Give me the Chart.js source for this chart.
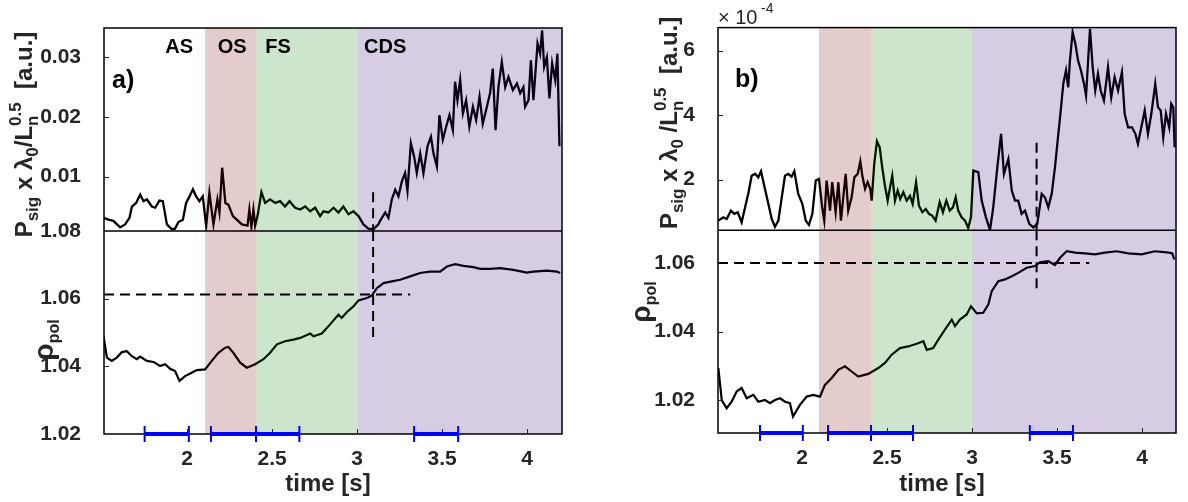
<!DOCTYPE html>
<html lang="en">
<head>
    <meta charset="UTF-8">
    <title>P_sig and rho_pol versus time</title>
    <script src="https://cdn.jsdelivr.net/npm/chart.js"></script>
    <style>
        body { margin: 0; background: #fff; }
        #wrap { position: relative; width: 1188px; height: 502px; }
        canvas { position: absolute; top: 0; }
    </style>
</head>
<body>
<div id="wrap">
    <canvas id="panel-a" width="590" height="502" style="left:0"></canvas>
    <canvas id="panel-b" width="598" height="502" style="left:590px"></canvas>
</div>

<script>
    // ---- data ----
    const xTicks = [2, 2.5, 3, 3.5, 4];
    const stageNames = ['AS', 'OS', 'FS', 'CDS'];
    const stageLabelTime = [1.953, 2.265, 2.535, 3.165];
    const phaseStartA = [2.106, 2.406, 3.006];   // OS, FS, CDS
    const phaseStartB = [2.100, 2.406, 3.000];

    // panel a, top: P_sig x lambda0 / Ln^0.5
    const sigTimeA = [1.508, 1.537, 1.566, 1.606, 1.635, 1.661, 1.675, 1.700, 1.724, 1.743, 1.763, 1.792, 1.812, 1.837, 1.857,
        1.881, 1.910, 1.929, 1.949, 1.975, 1.994, 2.014, 2.034, 2.053, 2.072, 2.092, 2.112, 2.131, 2.155, 2.178, 2.190, 2.206,
        2.225, 2.243, 2.269, 2.292, 2.322, 2.355, 2.366, 2.378, 2.390, 2.400, 2.414, 2.437, 2.459, 2.488, 2.518, 2.547, 2.576,
        2.602, 2.635, 2.665, 2.694, 2.724, 2.753, 2.782, 2.802, 2.831, 2.861, 2.890, 2.919, 2.949, 2.978, 3.008, 3.037, 3.066,
        3.096, 3.125, 3.135, 3.165, 3.184, 3.204, 3.224, 3.243, 3.263, 3.282, 3.296, 3.316, 3.335, 3.351, 3.371, 3.390, 3.414,
        3.434, 3.449, 3.469, 3.484, 3.504, 3.524, 3.543, 3.563, 3.576, 3.590, 3.606, 3.622, 3.641, 3.660, 3.681, 3.700, 3.720,
        3.739, 3.759, 3.782, 3.798, 3.814, 3.831, 3.851, 3.871, 3.890, 3.916, 3.940, 3.959, 3.978, 3.988, 4.008, 4.022, 4.037,
        4.061, 4.076, 4.088, 4.100, 4.116, 4.131, 4.147, 4.165, 4.178, 4.190];
    const sigA = [0.0031, 0.0028, 0.0026, 0.0015, 0.0020, 0.0031, 0.0050, 0.0056, 0.0070, 0.0059, 0.0062, 0.0050, 0.0048, 0.0060, 0.0059,
        0.0020, 0.0012, 0.0013, 0.0024, 0.0028, 0.0056, 0.0067, 0.0079, 0.0067, 0.0059, 0.0067, 0.0017, 0.0073, 0.0020, 0.0062, 0.0040, 0.0115,
        0.0056, 0.0053, 0.0034, 0.0028, 0.0020, 0.0018, 0.0045, 0.0016, 0.0045, 0.0018, 0.0034, 0.0074, 0.0056, 0.0062, 0.0056, 0.0059, 0.0050,
        0.0059, 0.0048, 0.0045, 0.0050, 0.0042, 0.0048, 0.0034, 0.0042, 0.0040, 0.0048, 0.0040, 0.0050, 0.0037, 0.0042, 0.0034, 0.0020, 0.0013,
        0.0012, 0.0020, 0.0026, 0.0040, 0.0031, 0.0062, 0.0078, 0.0067, 0.0092, 0.0106, 0.0076, 0.0156, 0.0134, 0.0106, 0.0139, 0.0106, 0.0151,
        0.0167, 0.0139, 0.0117, 0.0203, 0.0162, 0.0184, 0.0203, 0.0178, 0.0259, 0.0228, 0.0262, 0.0206, 0.0228, 0.0184, 0.0217, 0.0195, 0.0234,
        0.0189, 0.0212, 0.0240, 0.0281, 0.0178, 0.0250, 0.0292, 0.0250, 0.0267, 0.0245, 0.0256, 0.0240, 0.0250, 0.0217, 0.0228, 0.0295, 0.0228,
        0.0323, 0.0306, 0.0345, 0.0284, 0.0300, 0.0231, 0.0290, 0.0262, 0.0306, 0.0151];

    // panel a, bottom: rho_pol
    const rhoTimeA = [1.508, 1.528, 1.557, 1.586, 1.616, 1.645, 1.675, 1.704, 1.724, 1.763, 1.802, 1.841, 1.871, 1.900, 1.929, 1.955,
        1.988, 2.018, 2.057, 2.106, 2.145, 2.184, 2.224, 2.243, 2.272, 2.312, 2.351, 2.400, 2.449, 2.488, 2.528, 2.576, 2.625, 2.665,
        2.724, 2.743, 2.792, 2.841, 2.890, 2.909, 2.939, 2.978, 3.008, 3.057, 3.086, 3.116, 3.155, 3.204, 3.253, 3.312, 3.371, 3.429,
        3.488, 3.528, 3.576, 3.625, 3.684, 3.724, 3.782, 3.841, 3.919, 3.998, 4.037, 4.116, 4.175, 4.194];
    const rhoA = [1.0489, 1.0426, 1.0416, 1.0426, 1.0442, 1.0445, 1.0430, 1.0421, 1.0429, 1.0416, 1.0413, 1.0401, 1.0406, 1.0393, 1.0386, 1.0357,
        1.0371, 1.0379, 1.0389, 1.0391, 1.0416, 1.0440, 1.0455, 1.0457, 1.0440, 1.0411, 1.0396, 1.0406, 1.0421, 1.0440, 1.0465, 1.0474, 1.0479, 1.0484,
        1.0497, 1.0489, 1.0497, 1.0524, 1.0553, 1.0543, 1.0560, 1.0577, 1.0595, 1.0602, 1.0609, 1.0631, 1.0646, 1.0651, 1.0656, 1.0666, 1.0676, 1.0680,
        1.0680, 1.0695, 1.0702, 1.0697, 1.0693, 1.0688, 1.0688, 1.0690, 1.0685, 1.0677, 1.0680, 1.0683, 1.0680, 1.0676];

    // panel b, top (units of 1e-4)
    const sigTimeB = [1.508, 1.537, 1.557, 1.582, 1.602, 1.622, 1.645, 1.665, 1.684, 1.704, 1.724, 1.743, 1.759, 1.778, 1.802, 1.822,
        1.841, 1.861, 1.881, 1.900, 1.919, 1.939, 1.955, 1.978, 2.002, 2.022, 2.041, 2.061, 2.081, 2.100, 2.119, 2.131, 2.145, 2.165,
        2.178, 2.198, 2.214, 2.229, 2.245, 2.257, 2.272, 2.292, 2.308, 2.328, 2.343, 2.355, 2.371, 2.386, 2.402, 2.410, 2.425, 2.441,
        2.457, 2.472, 2.488, 2.504, 2.518, 2.531, 2.547, 2.563, 2.578, 2.596, 2.616, 2.635, 2.651, 2.671, 2.688, 2.708, 2.728, 2.747,
        2.767, 2.786, 2.810, 2.829, 2.849, 2.869, 2.888, 2.904, 2.919, 2.939, 2.959, 2.978, 2.994, 3.008, 3.037, 3.057, 3.082, 3.106,
        3.125, 3.149, 3.171, 3.188, 3.214, 3.234, 3.253, 3.272, 3.292, 3.312, 3.337, 3.361, 3.384, 3.410, 3.429, 3.449, 3.469, 3.488,
        3.508, 3.522, 3.537, 3.553, 3.566, 3.576, 3.592, 3.608, 3.624, 3.641, 3.659, 3.671, 3.682, 3.694, 3.710, 3.725, 3.741, 3.757,
        3.776, 3.800, 3.819, 3.839, 3.859, 3.882, 3.898, 3.918, 3.941, 3.961, 3.976, 3.996, 4.016, 4.035, 4.055, 4.078, 4.094, 4.110,
        4.125, 4.141, 4.160, 4.172, 4.184, 4.192];
    const sigB = [0.73, 0.83, 0.78, 1.04, 0.94, 0.99, 0.68, 1.14, 1.56, 2.12, 2.18, 2.07, 2.26, 1.81, 1.25, 0.78,
        0.54, 0.73, 1.45, 2.12, 2.18, 2.09, 2.26, 1.56, 1.25, 0.73, 0.60, 0.94, 1.97, 2.02, 1.14, 0.73, 1.97, 1.04,
        1.92, 0.99, 1.92, 0.73, 1.56, 2.18, 1.04, 1.45, 2.07, 2.18, 2.57, 2.12, 1.71, 1.92, 1.71, 1.35, 2.49, 3.19,
        3.00, 2.38, 1.81, 1.35, 1.76, 2.12, 1.35, 1.66, 1.40, 1.61, 1.35, 1.50, 1.25, 1.92, 1.19, 0.99, 1.09, 0.94,
        0.88, 0.73, 1.30, 0.99, 1.35, 1.04, 1.14, 1.45, 1.04, 0.83, 0.73, 0.50, 0.83, 2.28, 2.23, 1.35, 0.83, 0.44,
        1.14, 2.38, 3.42, 2.18, 2.64, 1.66, 1.35, 1.35, 0.94, 1.04, 0.63, 0.52, 0.63, 1.56, 1.45, 1.14, 1.56, 2.38,
        3.42, 4.14, 4.97, 5.38, 4.86, 5.69, 6.57, 6.21, 5.69, 5.38, 4.97, 4.60, 5.59, 6.67, 5.48, 4.76, 5.28, 4.76,
        4.45, 5.48, 4.55, 5.17, 4.76, 5.33, 4.04, 3.62, 3.62, 3.42, 3.11, 3.62, 4.14, 3.42, 4.04, 4.97, 4.24, 4.14,
        3.31, 4.04, 3.62, 4.35, 4.24, 3.00];

    // panel b, bottom: rho_pol
    const rhoTimeB = [1.508, 1.528, 1.557, 1.586, 1.616, 1.645, 1.675, 1.714, 1.743, 1.782, 1.812, 1.841, 1.871, 1.900, 1.929, 1.947,
        1.988, 2.028, 2.066, 2.106, 2.135, 2.175, 2.214, 2.253, 2.292, 2.331, 2.390, 2.449, 2.488, 2.528, 2.576, 2.625, 2.675, 2.714,
        2.734, 2.772, 2.802, 2.841, 2.881, 2.900, 2.929, 2.969, 2.994, 3.028, 3.066, 3.096, 3.116, 3.155, 3.194, 3.234, 3.272, 3.322,
        3.371, 3.400, 3.449, 3.488, 3.518, 3.557, 3.606, 3.665, 3.724, 3.782, 3.851, 3.919, 3.998, 4.076, 4.145, 4.178, 4.190];
    const rhoB = [1.0294, 1.0201, 1.0177, 1.0196, 1.0226, 1.0236, 1.0206, 1.0216, 1.0196, 1.0201, 1.0192, 1.0201, 1.0206, 1.0196, 1.0192, 1.0153,
        1.0187, 1.0211, 1.0216, 1.0211, 1.0245, 1.0265, 1.0289, 1.0299, 1.0284, 1.0269, 1.0277, 1.0294, 1.0309, 1.0333, 1.0352, 1.0357, 1.0365, 1.0372,
        1.0347, 1.0352, 1.0377, 1.0406, 1.0435, 1.0416, 1.0435, 1.0450, 1.0474, 1.0453, 1.0455, 1.0479, 1.0518, 1.0547, 1.0552, 1.0561, 1.0571, 1.0586,
        1.0591, 1.0602, 1.0605, 1.0594, 1.0615, 1.0634, 1.0630, 1.0628, 1.0625, 1.0630, 1.0634, 1.0628, 1.0625, 1.0634, 1.0631, 1.0628, 1.0610];

    // analysis windows (blue bars on the time axis)
    const windowsA = [[1.750, 2.010], [2.140, 2.405], [2.405, 2.660], [3.335, 3.594]];
    const windowsB = [[1.753, 2.005], [2.153, 2.406], [2.406, 2.653], [3.340, 3.594]];

    // dashed crosshair: [time, rho level, top of vertical in signal units, bottom of vertical in rho units, end time of horizontal]
    const crossA = [3.094, 1.0612, 0.0074, 1.047, 3.312];
    const crossB = [3.380, 1.0600, 3.14, 1.0514, 3.690];

    // ---- drawing ----
    const FONT = '"Liberation Sans", Arial, Helvetica, sans-serif';
    const INK = '#262626';
    const phaseFill = ['rgba(125,0,0,0.2)', 'rgba(5,120,5,0.2)', 'rgba(50,0,120,0.2)'];

    function pairs(xs, ys) {
        return xs.map((x, i) => ({x: x, y: ys[i]}));
    }

    // rotated text made of pieces: [text, size, shift, stack]
    function drawRotated(ctx, cx, cy, parts) {
        ctx.save();
        ctx.translate(cx, cy);
        ctx.rotate(-Math.PI / 2);
        ctx.fillStyle = INK;
        ctx.textBaseline = 'alphabetic';
        let total = 0;
        const widths = parts.map(p => {
            ctx.font = 'bold ' + p[1] + 'px ' + FONT;
            const w = ctx.measureText(p[0]).width;
            if (!p[3]) total += w;
            return w;
        });
        let x = -total / 2;
        parts.forEach((p, i) => {
            ctx.font = 'bold ' + p[1] + 'px ' + FONT;
            ctx.fillText(p[0], x, p[2]);
            if (!p[3]) x += widths[i];
        });
        ctx.restore();
    }

    function makeDecor(p) {
        let signalsDrawn = 0;
        return {
            id: 'decor',
            beforeDatasetsDraw() {
                signalsDrawn = 0;
            },
            afterDatasetDraw(chart, args) {
                if (chart.data.datasets[args.index].role !== 'signal') return;
                signalsDrawn++;
                if (signalsDrawn < 2) return;
                const ctx = chart.ctx;
                const a = chart.chartArea;
                const x = chart.scales.x;
                ctx.save();
                // phase shading over the traces
                p.phaseStart.forEach((s, i) => {
                    const x0 = x.getPixelForValue(s);
                    const x1 = x.getPixelForValue(i + 1 < p.phaseStart.length ? p.phaseStart[i + 1] : x.max);
                    ctx.fillStyle = phaseFill[i];
                    ctx.fillRect(x0, a.top, x1 - x0, a.bottom - a.top);
                });
                // box, divider and inward tick marks
                ctx.strokeStyle = '#000';
                ctx.lineWidth = 1.5;
                ctx.strokeRect(a.left, a.top, a.right - a.left, a.bottom - a.top);
                ctx.beginPath();
                ctx.moveTo(a.left, chart.scales.yTop.bottom);
                ctx.lineTo(a.right, chart.scales.yTop.bottom);
                ctx.stroke();
                ctx.strokeStyle = INK;
                ctx.lineWidth = 1;
                ctx.beginPath();
                x.ticks.forEach(t => {
                    const px = Math.round(x.getPixelForValue(t.value)) + 0.5;
                    ctx.moveTo(px, a.bottom);
                    ctx.lineTo(px, a.bottom - 5);
                });
                ['yTop', 'yBot'].forEach(id => {
                    const s = chart.scales[id];
                    s.ticks.forEach(t => {
                        if (t.value >= s.max || t.value <= s.min) return;
                        const py = Math.round(s.getPixelForValue(t.value)) + 0.5;
                        ctx.moveTo(a.left, py);
                        ctx.lineTo(a.left + 5, py);
                    });
                });
                ctx.stroke();
                ctx.restore();
            },
            afterDraw(chart) {
                const ctx = chart.ctx;
                const a = chart.chartArea;
                const x = chart.scales.x;
                const yTop = chart.scales.yTop;
                ctx.save();
                drawRotated(ctx, p.titleX, (yTop.top + yTop.bottom) / 2 + p.titleShift, p.titleParts);
                drawRotated(ctx, p.rhoX, p.rhoY, [['ρ', 28, 0], ['pol', 16, 6]]);

                ctx.fillStyle = INK;
                ctx.font = 'bold 24px ' + FONT;
                ctx.textAlign = 'center';
                ctx.textBaseline = 'middle';
                ctx.fillText('time [s]', (a.left + a.right) / 2 - 5, 484);

                ctx.fillStyle = '#000';
                ctx.font = 'bold 25px ' + FONT;
                ctx.textAlign = 'left';
                ctx.fillText(p.letter, a.left + p.letterDx, a.top + 53);

                if (p.stages) {
                    ctx.font = 'bold 20px ' + FONT;
                    ctx.textAlign = 'center';
                    stageNames.forEach((n, i) => {
                        ctx.fillText(n, x.getPixelForValue(stageLabelTime[i]), a.top + 19);
                    });
                }
                if (p.exponent) {
                    ctx.fillStyle = INK;
                    ctx.textAlign = 'left';
                    ctx.textBaseline = 'alphabetic';
                    ctx.font = '20px ' + FONT;
                    ctx.fillText('× 10', a.left, a.top - 4);
                    ctx.font = '14px ' + FONT;
                    ctx.fillText('-4', a.left + 43, a.top - 15);
                }
                ctx.restore();
            }
        };
    }

    function buildPanel(canvasId, p) {
        const tickFont = {family: FONT, size: 21, weight: 'bold'};
        const dash = {borderColor: '#000', borderWidth: 2, borderDash: [10, 6], pointRadius: 0, order: 0};
        const datasets = [
            {role: 'signal', yAxisID: 'yTop', data: pairs(p.sigTime, p.sig),
                borderColor: '#000', borderWidth: 2.3, pointRadius: 0, order: 10},
            {role: 'signal', yAxisID: 'yBot', data: pairs(p.rhoTime, p.rho),
                borderColor: '#000', borderWidth: 2.2, pointRadius: 0, order: 10},
            Object.assign({yAxisID: 'yBot', data: [{x: p.xMin, y: p.cross[1]}, {x: p.cross[4], y: p.cross[1]}]}, dash),
            Object.assign({yAxisID: 'yBot', data: [{x: p.cross[0], y: p.rhoMax}, {x: p.cross[0], y: p.cross[3]}]}, dash),
            Object.assign({yAxisID: 'yTop', data: [{x: p.cross[0], y: p.cross[2]}, {x: p.cross[0], y: p.sigMin}]}, dash)
        ];
        p.windows.forEach(w => {
            datasets.push({
                yAxisID: 'yBot', data: [{x: w[0], y: p.rhoMin}, {x: w[1], y: p.rhoMin}],
                borderColor: '#0000ff', borderWidth: 4, clip: false, order: 0,
                pointStyle: 'line', pointRotation: 90, pointRadius: 8,
                pointBorderColor: '#0000ff', pointBorderWidth: 2
            });
        });

        function yScale(min, max, ticks, width) {
            return {
                type: 'linear', position: 'left', stack: 'v', stackWeight: 1,
                min: min, max: max,
                afterBuildTicks: s => { s.ticks = ticks.map(v => ({value: v})); },
                afterFit: s => { s.width = width; },
                ticks: {font: tickFont, color: INK, padding: 15, callback: v => String(v)},
                grid: {display: false},
                border: {display: false}
            };
        }

        return new Chart(document.getElementById(canvasId), {
            type: 'line',
            data: {datasets: datasets},
            options: {
                responsive: false,
                animation: false,
                events: [],
                layout: {padding: {left: 0, top: p.padTop, right: p.padRight, bottom: 0}},
                plugins: {legend: {display: false}, tooltip: {enabled: false}},
                scales: {
                    x: {
                        type: 'linear', min: p.xMin, max: p.xMax,
                        afterBuildTicks: s => { s.ticks = xTicks.map(v => ({value: v})); },
                        afterFit: s => { s.height = p.xHeight; },
                        ticks: {font: tickFont, color: INK, padding: 5, maxRotation: 0, callback: v => String(v)},
                        grid: {display: false},
                        border: {display: false}
                    },
                    yBot: yScale(p.rhoMin, p.rhoMax, p.rhoTicks, p.axisWidth),
                    yTop: yScale(p.sigMin, p.sigMax, p.sigTicks, p.axisWidth)
                }
            },
            plugins: [makeDecor(p)]
        });
    }

    buildPanel('panel-a', {
        sigTime: sigTimeA, sig: sigA, rhoTime: rhoTimeA, rho: rhoA,
        windows: windowsA, cross: crossA, phaseStart: phaseStartA,
        xMin: 1.511, xMax: 4.205,
        sigMin: 0.0009, sigMax: 0.0349, sigTicks: [0.01, 0.02, 0.03],
        rhoMin: 1.02, rhoMax: 1.08, rhoTicks: [1.02, 1.04, 1.06, 1.08],
        padTop: 28, padRight: 28, xHeight: 68, axisWidth: 104,
        titleX: 32, titleShift: 5,
        titleParts: [['P', 24, 0], ['sig', 17, 6], [' x λ', 24, 0], ['0', 17, 6], ['/L', 24, 0],
            ['n', 17, 6, true], ['0.5', 17, -11], ['  [a.u.]', 24, 0]],
        rhoX: 53, rhoY: 340,
        letter: 'a)', letterDx: 8, stages: true, exponent: false
    });

    buildPanel('panel-b', {
        sigTime: sigTimeB, sig: sigB, rhoTime: rhoTimeB, rho: rhoB,
        windows: windowsB, cross: crossB, phaseStart: phaseStartB,
        xMin: 1.506, xMax: 4.200,
        sigMin: 0.43, sigMax: 6.71, sigTicks: [2, 4, 6],
        rhoMin: 1.0105, rhoMax: 1.0695, rhoTicks: [1.02, 1.04, 1.06],
        padTop: 27, padRight: 12, xHeight: 69, axisWidth: 128,
        titleX: 87, titleShift: -6,
        titleParts: [['P', 24, 0], ['sig', 17, 6], [' x λ', 24, 0], ['0', 17, 6], [' /L', 24, 0],
            ['n', 17, 6, true], ['0.5', 17, -11], ['  [a.u.]', 24, 0]],
        rhoX: 60, rhoY: 302,
        letter: 'b)', letterDx: 17, stages: false, exponent: true
    });
</script>
</body>
</html>
